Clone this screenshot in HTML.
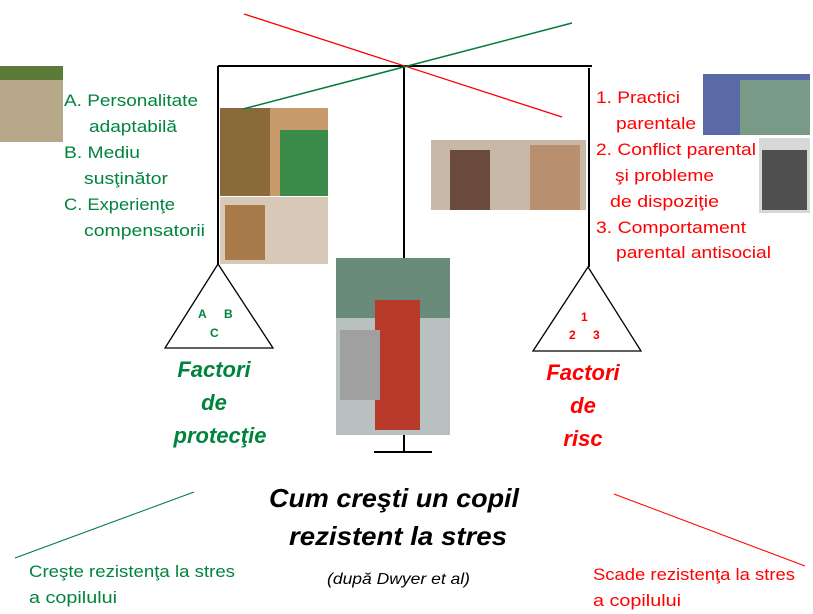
<!DOCTYPE html>
<html><head><meta charset="utf-8"><style>
html,body{margin:0;padding:0;background:#fff;}
svg{display:block;}
text{font-family:"Liberation Sans",sans-serif;}
</style></head><body>
<svg width="813" height="614" viewBox="0 0 813 614" xmlns="http://www.w3.org/2000/svg">
<rect x="0" y="66" width="63" height="76" fill="#b8a88a"/>
<rect x="0" y="66" width="63" height="14" fill="#5c7a3a"/>
<rect x="220" y="108" width="108" height="88" fill="#c89a6a"/>
<rect x="220" y="108" width="50" height="88" fill="#8a6a3a"/>
<rect x="280" y="130" width="48" height="66" fill="#3a8a4a"/>
<rect x="220" y="197" width="108" height="67" fill="#d8c8b8"/>
<rect x="225" y="205" width="40" height="55" fill="#a87a4a"/>
<rect x="336" y="258" width="114" height="177" fill="#b8c0c0"/>
<rect x="336" y="258" width="114" height="60" fill="#6a8a7a"/>
<rect x="375" y="300" width="45" height="130" fill="#b83a2a"/>
<rect x="340" y="330" width="40" height="70" fill="#a0a0a0"/>
<rect x="431" y="140" width="155" height="70" fill="#c8b8a8"/>
<rect x="450" y="150" width="40" height="60" fill="#6a4a3a"/>
<rect x="530" y="145" width="50" height="65" fill="#b89070"/>
<rect x="703" y="74" width="107" height="61" fill="#5a6aa8"/>
<rect x="740" y="80" width="70" height="55" fill="#7a9a88"/>
<rect x="759" y="138" width="51" height="75" fill="#d8d8d8"/>
<rect x="762" y="150" width="45" height="60" fill="#505050"/>

<g stroke="#000" stroke-width="2" fill="none">
<line x1="218" y1="66" x2="592" y2="66"/>
<line x1="218" y1="66" x2="218" y2="264"/>
<line x1="589" y1="68" x2="589" y2="267"/>
<line x1="404" y1="66" x2="404" y2="258"/>
<line x1="404" y1="435" x2="404" y2="451"/>
<line x1="374" y1="452" x2="432" y2="452"/>
</g>
<g stroke="#000" stroke-width="1.3" fill="none">
<polygon points="218,264 165,348 273,348"/>
<polygon points="588,267 533,351 641,351"/>
</g>
<line x1="244" y1="14" x2="562" y2="117" stroke="#f00" stroke-width="1.3"/>
<line x1="243" y1="109" x2="572" y2="23" stroke="#007a3a" stroke-width="1.5"/>
<line x1="15" y1="558" x2="194" y2="492" stroke="#007a3a" stroke-width="1"/>
<line x1="614" y1="494" x2="805" y2="566" stroke="#f00" stroke-width="1"/>

<g fill="#00843d" font-size="17">
<text x="64" y="106" textLength="134" lengthAdjust="spacingAndGlyphs">A. Personalitate</text>
<text x="89" y="132" textLength="88" lengthAdjust="spacingAndGlyphs">adaptabilă</text>
<text x="64" y="158" textLength="76" lengthAdjust="spacingAndGlyphs">B. Mediu</text>
<text x="84" y="184" textLength="84" lengthAdjust="spacingAndGlyphs">susţinător</text>
<text x="64" y="210" textLength="111" lengthAdjust="spacingAndGlyphs">C. Experienţe</text>
<text x="84" y="236" textLength="121" lengthAdjust="spacingAndGlyphs">compensatorii</text>
</g>
<g fill="#00843d" font-size="12" font-weight="bold">
<text x="198" y="318">A</text><text x="224" y="318">B</text><text x="210" y="337">C</text>
</g>
<g fill="#00843d" font-size="22" font-weight="bold" font-style="italic" text-anchor="middle">
<text x="214" y="377">Factori</text>
<text x="214" y="410">de</text>
<text x="220" y="443">protecţie</text>
</g>

<g fill="#f00" font-size="17">
<text x="596" y="103" textLength="84" lengthAdjust="spacingAndGlyphs">1. Practici</text>
<text x="616" y="129" textLength="80" lengthAdjust="spacingAndGlyphs">parentale</text>
<text x="596" y="155" textLength="160" lengthAdjust="spacingAndGlyphs">2. Conflict parental</text>
<text x="615" y="181" textLength="99" lengthAdjust="spacingAndGlyphs">şi probleme</text>
<text x="610" y="207" textLength="109" lengthAdjust="spacingAndGlyphs">de dispoziţie</text>
<text x="596" y="233" textLength="150" lengthAdjust="spacingAndGlyphs">3. Comportament</text>
<text x="616" y="258" textLength="155" lengthAdjust="spacingAndGlyphs">parental antisocial</text>
</g>
<g fill="#f00" font-size="12" font-weight="bold">
<text x="581" y="321">1</text><text x="569" y="339">2</text><text x="593" y="339">3</text>
</g>
<g fill="#f00" font-size="22" font-weight="bold" font-style="italic" text-anchor="middle">
<text x="583" y="380">Factori</text>
<text x="583" y="413">de</text>
<text x="583" y="446">risc</text>
</g>

<g fill="#000" font-size="26" font-weight="bold" font-style="italic" text-anchor="middle">
<text x="394" y="507" textLength="250" lengthAdjust="spacingAndGlyphs">Cum creşti un copil</text>
<text x="398" y="545" textLength="218" lengthAdjust="spacingAndGlyphs">rezistent la stres</text>
</g>
<text x="327" y="584" font-size="16" font-style="italic" fill="#000" textLength="143" lengthAdjust="spacingAndGlyphs">(după Dwyer et al)</text>

<g fill="#00843d" font-size="17">
<text x="29" y="577" textLength="206" lengthAdjust="spacingAndGlyphs">Creşte rezistenţa la stres</text>
<text x="29" y="603" textLength="88" lengthAdjust="spacingAndGlyphs">a copilului</text>
</g>
<g fill="#f00" font-size="17">
<text x="593" y="580" textLength="202" lengthAdjust="spacingAndGlyphs">Scade rezistenţa la stres</text>
<text x="593" y="606" textLength="88" lengthAdjust="spacingAndGlyphs">a copilului</text>
</g>
</svg>
</body></html>
